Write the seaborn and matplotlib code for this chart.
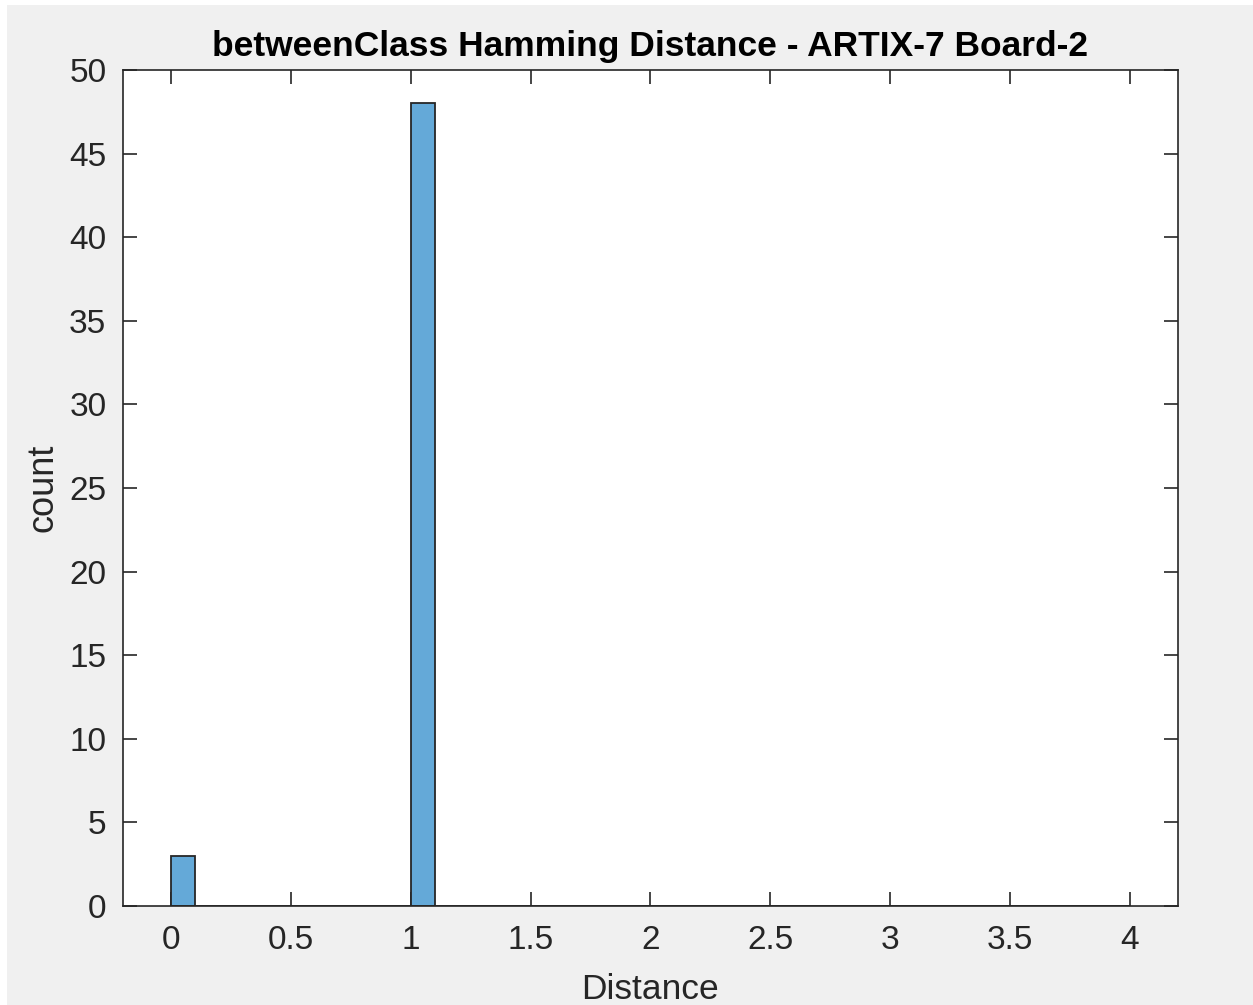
import numpy as np
import seaborn as sns
import matplotlib.pyplot as plt
from matplotlib.patches import Rectangle

# histogram bins (width 0.1 from 0 to 4) and counts
bin_edges = [round(0.1 * i, 1) for i in range(41)]
bin_left = bin_edges[:-1]
counts = [3, 0, 0, 0, 0, 0, 0, 0, 0, 0,
          48, 0, 0, 0, 0, 0, 0, 0, 0, 0,
          0, 0, 0, 0, 0, 0, 0, 0, 0, 0,
          0, 0, 0, 0, 0, 0, 0, 0, 0, 0]
x_ticks = [0, 0.5, 1, 1.5, 2, 2.5, 3, 3.5, 4]
x_tick_labels = ['0', '0.5', '1', '1.5', '2', '2.5', '3', '3.5', '4']
y_ticks = list(range(0, 51, 5))

sns.set_style('white')
plt.rcParams['font.family'] = ['Liberation Sans', 'DejaVu Sans']

fig = plt.figure(figsize=(12.53, 10.05), dpi=100, facecolor='white')
# MATLAB-style grey window
fig.patches.append(Rectangle((7 / 1253, 0), 1 - 7 / 1253, 1 - 5 / 1005,
                             transform=fig.transFigure, facecolor='#f0f0f0',
                             edgecolor='none', zorder=-10))
ax = fig.add_axes([0.0982, 0.0985, 0.8419, 0.8318])
ax.set_facecolor('white')

sns.histplot(x=bin_left, weights=counts, bins=bin_edges, ax=ax,
             color='#64a9d8', alpha=1, edgecolor='#262626', linewidth=1.3)

ax.set_xlim(-0.2, 4.2)
ax.set_ylim(0, 50)
ax.set_xticks(x_ticks)
ax.set_xticklabels(x_tick_labels)
ax.set_yticks(y_ticks)

for side in ax.spines.values():
    side.set_visible(True)
    side.set_color('#262626')
    side.set_linewidth(1.2)

ax.tick_params(axis='both', which='both', direction='in', length=10, width=1.2,
               colors='#262626', labelsize=24, top=True, right=True,
               bottom=True, left=True, labelcolor='#262626')
ax.tick_params(axis='x', pad=14)
ax.tick_params(axis='y', pad=12)

ax.set_xlabel('Distance', fontsize=25.5, color='#262626', labelpad=12)
ax.set_ylabel('count', fontsize=26, color='#262626', labelpad=6)
ax.set_title('betweenClass Hamming Distance - ARTIX-7 Board-2',
             fontsize=25.5, fontweight='bold', color='black', pad=10)

plt.savefig('out.png', dpi=100, facecolor=fig.get_facecolor())
